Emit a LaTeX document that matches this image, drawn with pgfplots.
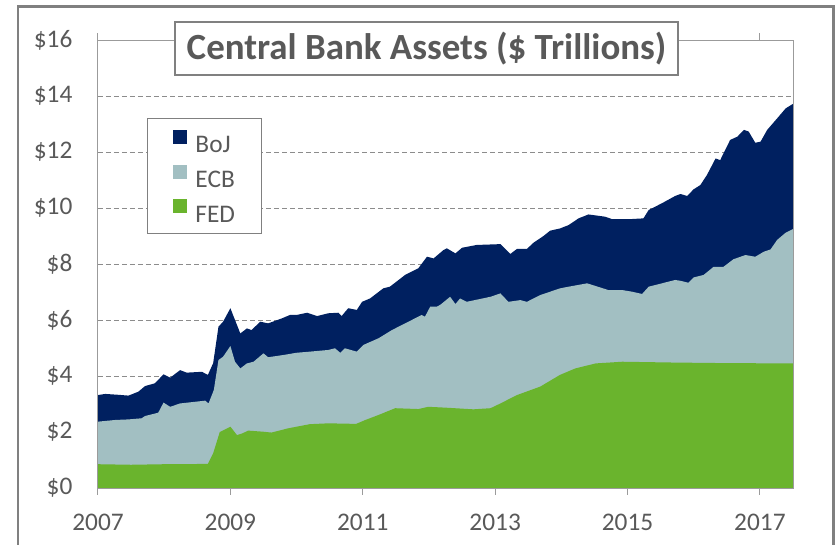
\documentclass[border=0pt]{standalone}
\usepackage{fontspec}
\setmainfont{Carlito}
\usepackage{pgfplots}
\pgfplotsset{compat=1.18}
\definecolor{boj}{HTML}{002060}
\definecolor{ecb}{HTML}{A2BFC2}
\definecolor{fed}{HTML}{6AB42D}
\definecolor{txt}{HTML}{595959}
\definecolor{framec}{HTML}{808080}
\definecolor{gridc}{HTML}{8C8C8C}
\definecolor{boxc}{HTML}{9B9B9B}

\begin{document}
\begin{tikzpicture}
\useasboundingbox (-73.5pt,-42pt) rectangle (554.25pt,366pt);
\begin{axis}[
    scale only axis,
    width=521.25pt, height=336pt,
    clip mode=individual,
    xmin=2007, xmax=2017.5,
    ymin=0, ymax=16,
    xtick={2007,2009,2011,2013,2015,2017},
    xticklabels={2007,2009,2011,2013,2015,2017},
    ytick={0,2,...,16},
    yticklabels={\$0,\$2,\$4,\$6,\$8,\$10,\$12,\$14,\$16},
    ymajorgrids,
    grid style={gridc, line width=0.75pt, dash pattern=on 3.5pt off 2.5pt},
    axis line style={boxc, line width=0.75pt},
    tick align=outside,
    major tick length=5pt,
    xtick style={boxc, line width=0.75pt},
    ytick style={draw=none},
    ticklabel style={font=\fontsize{19}{22}\selectfont, text=txt},
    xticklabel style={inner sep=0pt, anchor=north, yshift=-14.5pt},
    yticklabel style={inner sep=0pt, anchor=east, xshift=-14pt},
    legend style={at={(0.0705,0.826)}, anchor=north west,
        draw=framec, line width=0.75pt, fill=white,
        font=\fontsize{19}{22}\selectfont, text=txt,
        inner xsep=19.5pt, inner ysep=8.5pt, row sep=9pt, column sep=6pt,
        nodes={inner sep=0pt, text height=12.2pt, text depth=0pt}},
    legend cell align=left,
    legend image code/.code={\fill[#1] (0pt,0.5pt) rectangle (10.5pt,11pt);},
]
% stacked totals: BoJ+ECB+FED
\addplot[fill=boj, draw=none] coordinates {
(2007.00,3.32) (2007.11,3.36) (2007.30,3.33) (2007.46,3.30) (2007.61,3.44)
(2007.71,3.64) (2007.86,3.74) (2007.99,4.06) (2008.09,3.94) (2008.24,4.21)
(2008.34,4.12) (2008.57,4.15) (2008.66,4.04) (2008.74,4.46) (2008.82,5.76)
(2008.89,5.94) (2009.00,6.42) (2009.07,6.00) (2009.15,5.52) (2009.25,5.70)
(2009.32,5.64) (2009.45,5.94) (2009.57,5.88) (2009.78,6.06) (2009.90,6.18)
(2010.00,6.18) (2010.16,6.26) (2010.31,6.14) (2010.48,6.24) (2010.63,6.26)
(2010.68,6.14) (2010.78,6.42) (2010.91,6.36) (2010.99,6.65) (2011.11,6.77)
(2011.31,7.13) (2011.41,7.19) (2011.64,7.61) (2011.84,7.85) (2011.97,8.26)
(2012.07,8.20) (2012.22,8.50) (2012.27,8.56) (2012.40,8.38) (2012.50,8.58)
(2012.72,8.68) (2013.08,8.71) (2013.23,8.36) (2013.33,8.54) (2013.48,8.54)
(2013.58,8.76) (2013.73,9.00) (2013.83,9.19) (2013.98,9.27) (2014.11,9.39)
(2014.26,9.63) (2014.41,9.77) (2014.66,9.69) (2014.77,9.60) (2015.02,9.60)
(2015.24,9.63) (2015.32,9.93) (2015.52,10.17) (2015.72,10.43) (2015.80,10.50)
(2015.90,10.43) (2016.00,10.67) (2016.10,10.82) (2016.20,11.18) (2016.33,11.77)
(2016.40,11.71) (2016.55,12.43) (2016.66,12.55) (2016.76,12.79) (2016.83,12.73)
(2016.93,12.33) (2017.01,12.37) (2017.11,12.79) (2017.26,13.20) (2017.39,13.56)
(2017.50,13.72)
} \closedcycle;
\addlegendentry{BoJ}
% ECB+FED
\addplot[fill=ecb, draw=none] coordinates {
(2007.00,2.37) (2007.26,2.43) (2007.46,2.45) (2007.66,2.49) (2007.71,2.57)
(2007.91,2.69) (2007.99,3.05) (2008.09,2.90) (2008.24,3.02) (2008.47,3.08)
(2008.62,3.12) (2008.67,3.02) (2008.75,3.50) (2008.82,4.57) (2008.89,4.69)
(2009.00,5.07) (2009.07,4.51) (2009.15,4.27) (2009.25,4.45) (2009.35,4.51)
(2009.50,4.81) (2009.57,4.67) (2009.80,4.75) (2010.00,4.83) (2010.20,4.87)
(2010.48,4.93) (2010.58,4.99) (2010.66,4.83) (2010.73,4.99) (2010.91,4.87)
(2011.01,5.11) (2011.24,5.35) (2011.44,5.64) (2011.69,5.94) (2011.89,6.18)
(2011.94,6.12) (2012.02,6.48) (2012.12,6.48) (2012.17,6.54) (2012.32,6.83)
(2012.40,6.57) (2012.47,6.77) (2012.57,6.65) (2012.93,6.83) (2013.08,6.95)
(2013.20,6.65) (2013.38,6.71) (2013.48,6.65) (2013.68,6.89) (2013.83,7.01)
(2013.98,7.13) (2014.11,7.19) (2014.39,7.31) (2014.71,7.07) (2014.92,7.07)
(2015.07,7.01) (2015.22,6.93) (2015.32,7.19) (2015.52,7.31) (2015.72,7.43)
(2015.80,7.40) (2015.92,7.33) (2016.00,7.52) (2016.15,7.61) (2016.30,7.90)
(2016.45,7.90) (2016.60,8.17) (2016.78,8.32) (2016.93,8.26) (2017.06,8.44)
(2017.16,8.52) (2017.26,8.86) (2017.39,9.12) (2017.50,9.25)
} \closedcycle;
\addlegendentry{ECB}
% FED
\addplot[fill=fed, draw=none] coordinates {
(2007.00,0.85) (2007.50,0.83) (2008.00,0.85) (2008.66,0.86) (2008.74,1.24)
(2008.84,2.00) (2009.00,2.19) (2009.10,1.89) (2009.18,1.95) (2009.27,2.05)
(2009.50,2.01) (2009.62,1.98) (2009.87,2.13) (2010.20,2.28) (2010.48,2.31)
(2010.90,2.29) (2011.04,2.43) (2011.24,2.61) (2011.49,2.85) (2011.84,2.82)
(2011.99,2.90) (2012.25,2.87) (2012.67,2.81) (2012.93,2.85) (2013.08,3.02)
(2013.33,3.32) (2013.68,3.62) (2013.98,4.04) (2014.21,4.27) (2014.52,4.45)
(2014.92,4.51) (2015.72,4.48) (2016.50,4.46) (2017.50,4.45)
} \closedcycle;
\addlegendentry{FED}
\draw[boxc, line width=0.75pt] (rel axis cs:0,0) rectangle (rel axis cs:1,1);
\node[draw=framec, line width=1.5pt, fill=white, text=txt,
      font=\fontsize{27.7}{32}\selectfont\bfseries,
      minimum width=377pt, minimum height=39.75pt, inner sep=0pt]
  at (rel axis cs:0.4727,0.981) {Central Bank Assets (\$ Trillions)};
\end{axis}
\draw[framec, line width=2pt] (-60pt,-80pt) rectangle (551.5pt,361pt);
\end{tikzpicture}
\end{document}
